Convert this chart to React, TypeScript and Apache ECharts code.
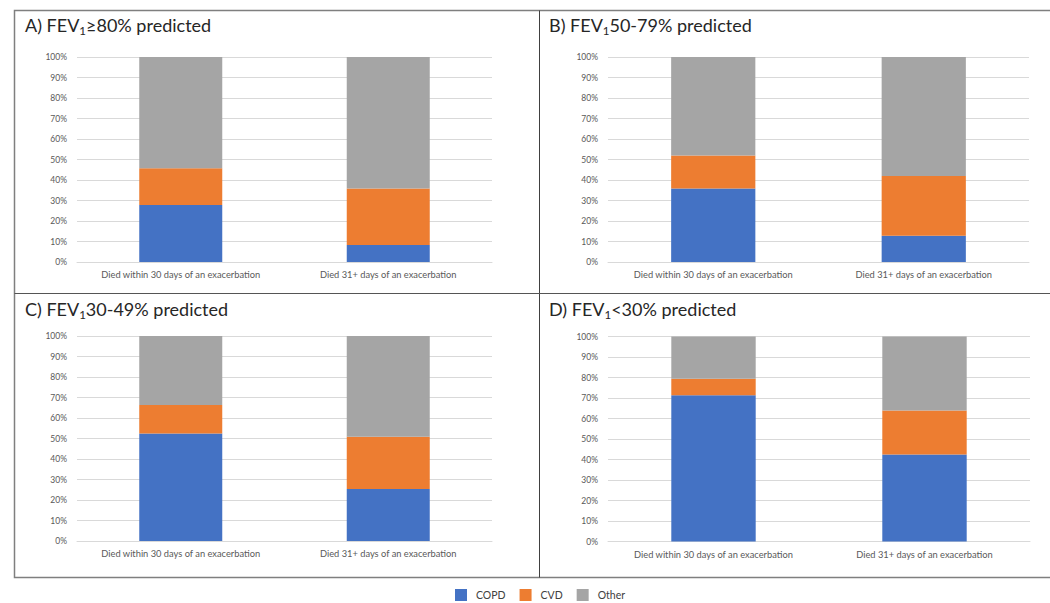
import React, { useEffect, useRef } from "react";
import * as echarts from "echarts";

const categories = [
  "Died within 30 days of an exacerbation",
  "Died 31+ days of an exacerbation",
];
const panelLabels = ["A) FEV", "B) FEV", "C) FEV", "D) FEV"];
const panelSuffix = ["≥80% predicted", "50-79% predicted", "30-49% predicted", "<30% predicted"];
const yTicks = [0, 10, 20, 30, 40, 50, 60, 70, 80, 90, 100];

// per panel [within 30 days, 31+ days]
const copdA = [27.8, 8.3];
const copdB = [35.8, 12.8];
const copdC = [52.5, 25.4];
const copdD = [71.3, 42.4];
const cvdA = [17.9, 27.6];
const cvdB = [16.2, 29.2];
const cvdC = [13.8, 25.5];
const cvdD = [8.1, 21.5];
const otherA = [54.3, 64.1];
const otherB = [48.0, 58.0];
const otherC = [33.7, 49.1];
const otherD = [20.6, 36.1];

const seriesNames = ["COPD", "CVD", "Other"];
const colors = ["#4472C4", "#ED7D31", "#A5A5A5"];
const panelData = [
  [copdA, cvdA, otherA],
  [copdB, cvdB, otherB],
  [copdC, cvdC, otherC],
  [copdD, cvdD, otherD],
];

const FONT = "Lato, 'Open Sans', sans-serif";

export default function App() {
  const ref = useRef<HTMLDivElement>(null);
  useEffect(() => {
    document.body.style.margin = "0";
    if (!ref.current) return;
    const chart = echarts.init(ref.current, null, { renderer: "svg" });
    const grids = [
      { left: 77, top: 57, width: 415, height: 205 },
      { left: 608, top: 57, width: 421, height: 205 },
      { left: 77, top: 336, width: 415, height: 205 },
      { left: 608, top: 336.5, width: 422, height: 205 },
    ];
    const titlePos = [
      { left: 20, top: 9 },
      { left: 544, top: 9 },
      { left: 20, top: 293 },
      { left: 544, top: 293 },
    ];
    const series: any[] = [];
    panelData.forEach((pd, p) => {
      pd.forEach((vals, s) => {
        series.push({
          type: "bar",
          name: seriesNames[s],
          stack: "p" + p,
          xAxisIndex: p,
          yAxisIndex: p,
          barWidth: "40%",
          data: vals,
          itemStyle: { color: colors[s] },
        });
      });
    });
    chart.setOption({
      animation: false,
      backgroundColor: "#ffffff",
      textStyle: { fontFamily: FONT },
      title: titlePos.map((tp, i) => ({
        left: tp.left,
        top: tp.top,
        text: `{t|${panelLabels[i]}}{s|1}{t|${panelSuffix[i]}}`,
        textStyle: {
          fontWeight: "normal",
          rich: {
            t: { fontSize: 18, color: "#262626", fontFamily: FONT, fontWeight: "normal", lineHeight: 22 },
            s: { fontSize: 11.5, color: "#262626", fontFamily: FONT, fontWeight: "normal", lineHeight: 10, verticalAlign: "bottom" },
          },
        },
      })),
      grid: grids,
      xAxis: grids.map((_, i) => ({
        type: "category",
        gridIndex: i,
        data: categories,
        axisLine: { show: true, lineStyle: { color: "#d9d9d9", width: 1 } },
        axisTick: { show: false },
        axisLabel: { color: "#595959", fontSize: 9.3, margin: 8, fontFamily: FONT, interval: 0 },
      })),
      yAxis: grids.map((_, i) => ({
        type: "value",
        gridIndex: i,
        min: yTicks[0],
        max: yTicks[yTicks.length - 1],
        interval: 10,
        axisLine: { show: false },
        axisTick: { show: false },
        axisLabel: { color: "#595959", fontSize: 8.5, margin: 10, fontFamily: FONT, formatter: "{value}%" },
        splitLine: { lineStyle: { color: "#d9d9d9", width: 1 } },
      })),
      legend: {
        data: seriesNames,
        left: 455,
        top: 589,
        padding: 0,
        icon: "rect",
        itemWidth: 12,
        itemHeight: 12,
        itemGap: 14,
        textStyle: { color: "#404040", fontSize: 10.5, fontFamily: FONT, padding: [0, 0, 0, 4] },
      },
      graphic: [
        {
          type: "rect",
          shape: { x: 14.5, y: 10.5, width: 1040, height: 567 },
          style: { fill: "none", stroke: "#7f7f7f", lineWidth: 1.5 },
          silent: true,
        },
        {
          type: "line",
          shape: { x1: 539.5, y1: 10.5, x2: 539.5, y2: 577.5 },
          style: { stroke: "#404040", lineWidth: 1 },
          silent: true,
        },
        {
          type: "line",
          shape: { x1: 14.5, y1: 293.5, x2: 1050, y2: 293.5 },
          style: { stroke: "#555555", lineWidth: 1.2 },
          silent: true,
        },
      ],
      series,
    });
    return () => chart.dispose();
  }, []);
  return <div ref={ref} style={{ width: 1050, height: 603 }} />;
}
